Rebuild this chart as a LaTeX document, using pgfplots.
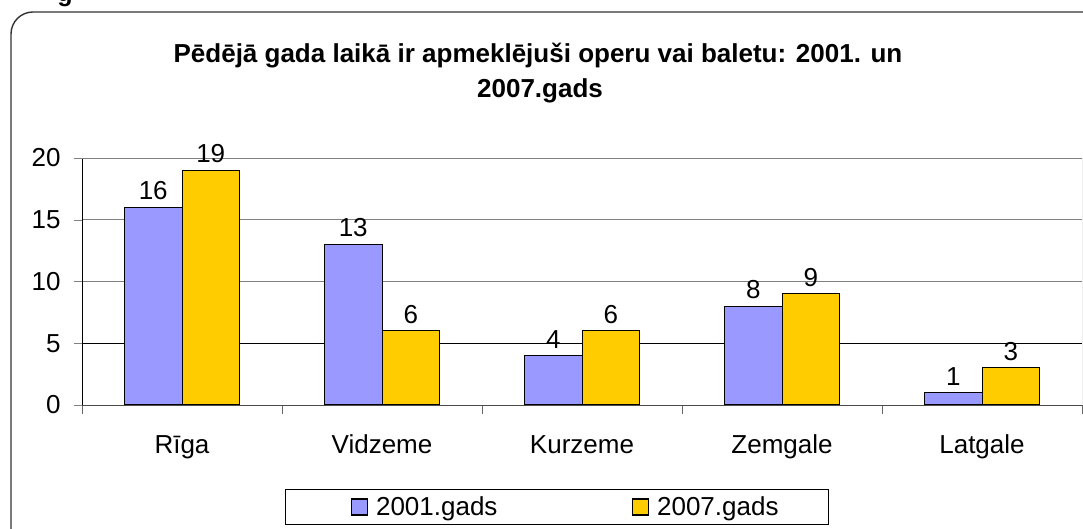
\documentclass[border=0pt]{standalone}
\usepackage{fontspec}
\setmainfont{Liberation Sans}
\usepackage{pgfplots}
\pgfplotsset{compat=1.18}
\definecolor{cblue}{HTML}{9999FF}
\definecolor{cyel}{HTML}{FFCC00}
\begin{document}
\begin{tikzpicture}
\useasboundingbox (0pt,0pt) rectangle (1083pt,529pt);
\clip (0pt,0pt) rectangle (1083pt,529pt);
\draw[black!80, line width=1.4pt, rounded corners=22pt] (11pt,-30pt) rectangle (1105pt,517pt);
\node[anchor=base, font=\bfseries\fontsize{25}{30}\selectfont, inner sep=0pt] at (65pt,527pt) {g};
\node[anchor=base, font=\bfseries\fontsize{26}{30}\selectfont, inner sep=0pt] at (538pt,466pt) {Pēdējā gada laikā ir apmeklējuši operu vai baletu: 2001. un};
\node[anchor=base, font=\bfseries\fontsize{26}{30}\selectfont, inner sep=0pt] at (540pt,431pt) {2007.gads};
\begin{axis}[
  at={(82pt,124pt)}, anchor=south west,
  width=1000pt, height=247pt, scale only axis,
  xmin=-0.5, xmax=4.5, ymin=0, ymax=20,
  axis lines=left, axis line style={-},
  x axis line style={black!70},
  y axis line style={black},
  ybar=0pt, bar width=57.5pt,
  xtick={0,1,2,3,4},
  xticklabels={Rīga, Vidzeme, Kurzeme, Zemgale, Latgale},
  major x tick style={draw=none},
  minor xtick={-0.5,0.5,1.5,2.5,3.5,4.5},
  minor x tick style={black!60},
  minor tick length=9pt,
  ytick={0,5,10,15,20},
  major tick length=8pt,
  tick align=outside,
  ymajorgrids, grid style={black!50, line width=0.9pt},
  extra y ticks={5}, extra y tick labels={},
  extra y tick style={grid style={black, line width=0.9pt}, major tick length=8pt},
  /pgf/number format/assume math mode=true,
  tick label style={font=\fontsize{26}{30}\selectfont},
  xticklabel style={yshift=-18pt, text height=19pt, text depth=6pt},
  yticklabel style={xshift=-10pt},
  nodes near coords,
  nodes near coords style={font=\fontsize{26}{30}\selectfont, anchor=south, inner sep=0pt, yshift=7pt},
  legend style={at={(0.475,-0.413)}, anchor=center, draw=black, line width=1pt,
    font=\fontsize{26}{30}\selectfont, inner xsep=48pt, inner ysep=5pt,
    /tikz/every odd column/.append style={column sep=6pt},
    /tikz/every even column/.append style={column sep=115pt}},
  legend columns=2,
  legend image code/.code={\path[draw=none, fill=none] (0pt,-0.5pt) rectangle (18pt,0.5pt); \draw[#1, draw=black, line width=1.2pt] (18pt,-8pt) rectangle (34pt,8pt);},
]
\addplot[fill=cblue, draw=black, line width=1pt] coordinates {(0,16) (1,13) (2,4) (3,8) (4,1)};
\addplot[fill=cyel, draw=black, line width=1pt] coordinates {(0,19) (1,6) (2,6) (3,9) (4,3)};
\legend{2001.gads, 2007.gads}
\draw[black!50, line width=0.9pt] (rel axis cs:0,1) -- (rel axis cs:1,1) -- (rel axis cs:1,0);
\end{axis}
\end{tikzpicture}
\end{document}
